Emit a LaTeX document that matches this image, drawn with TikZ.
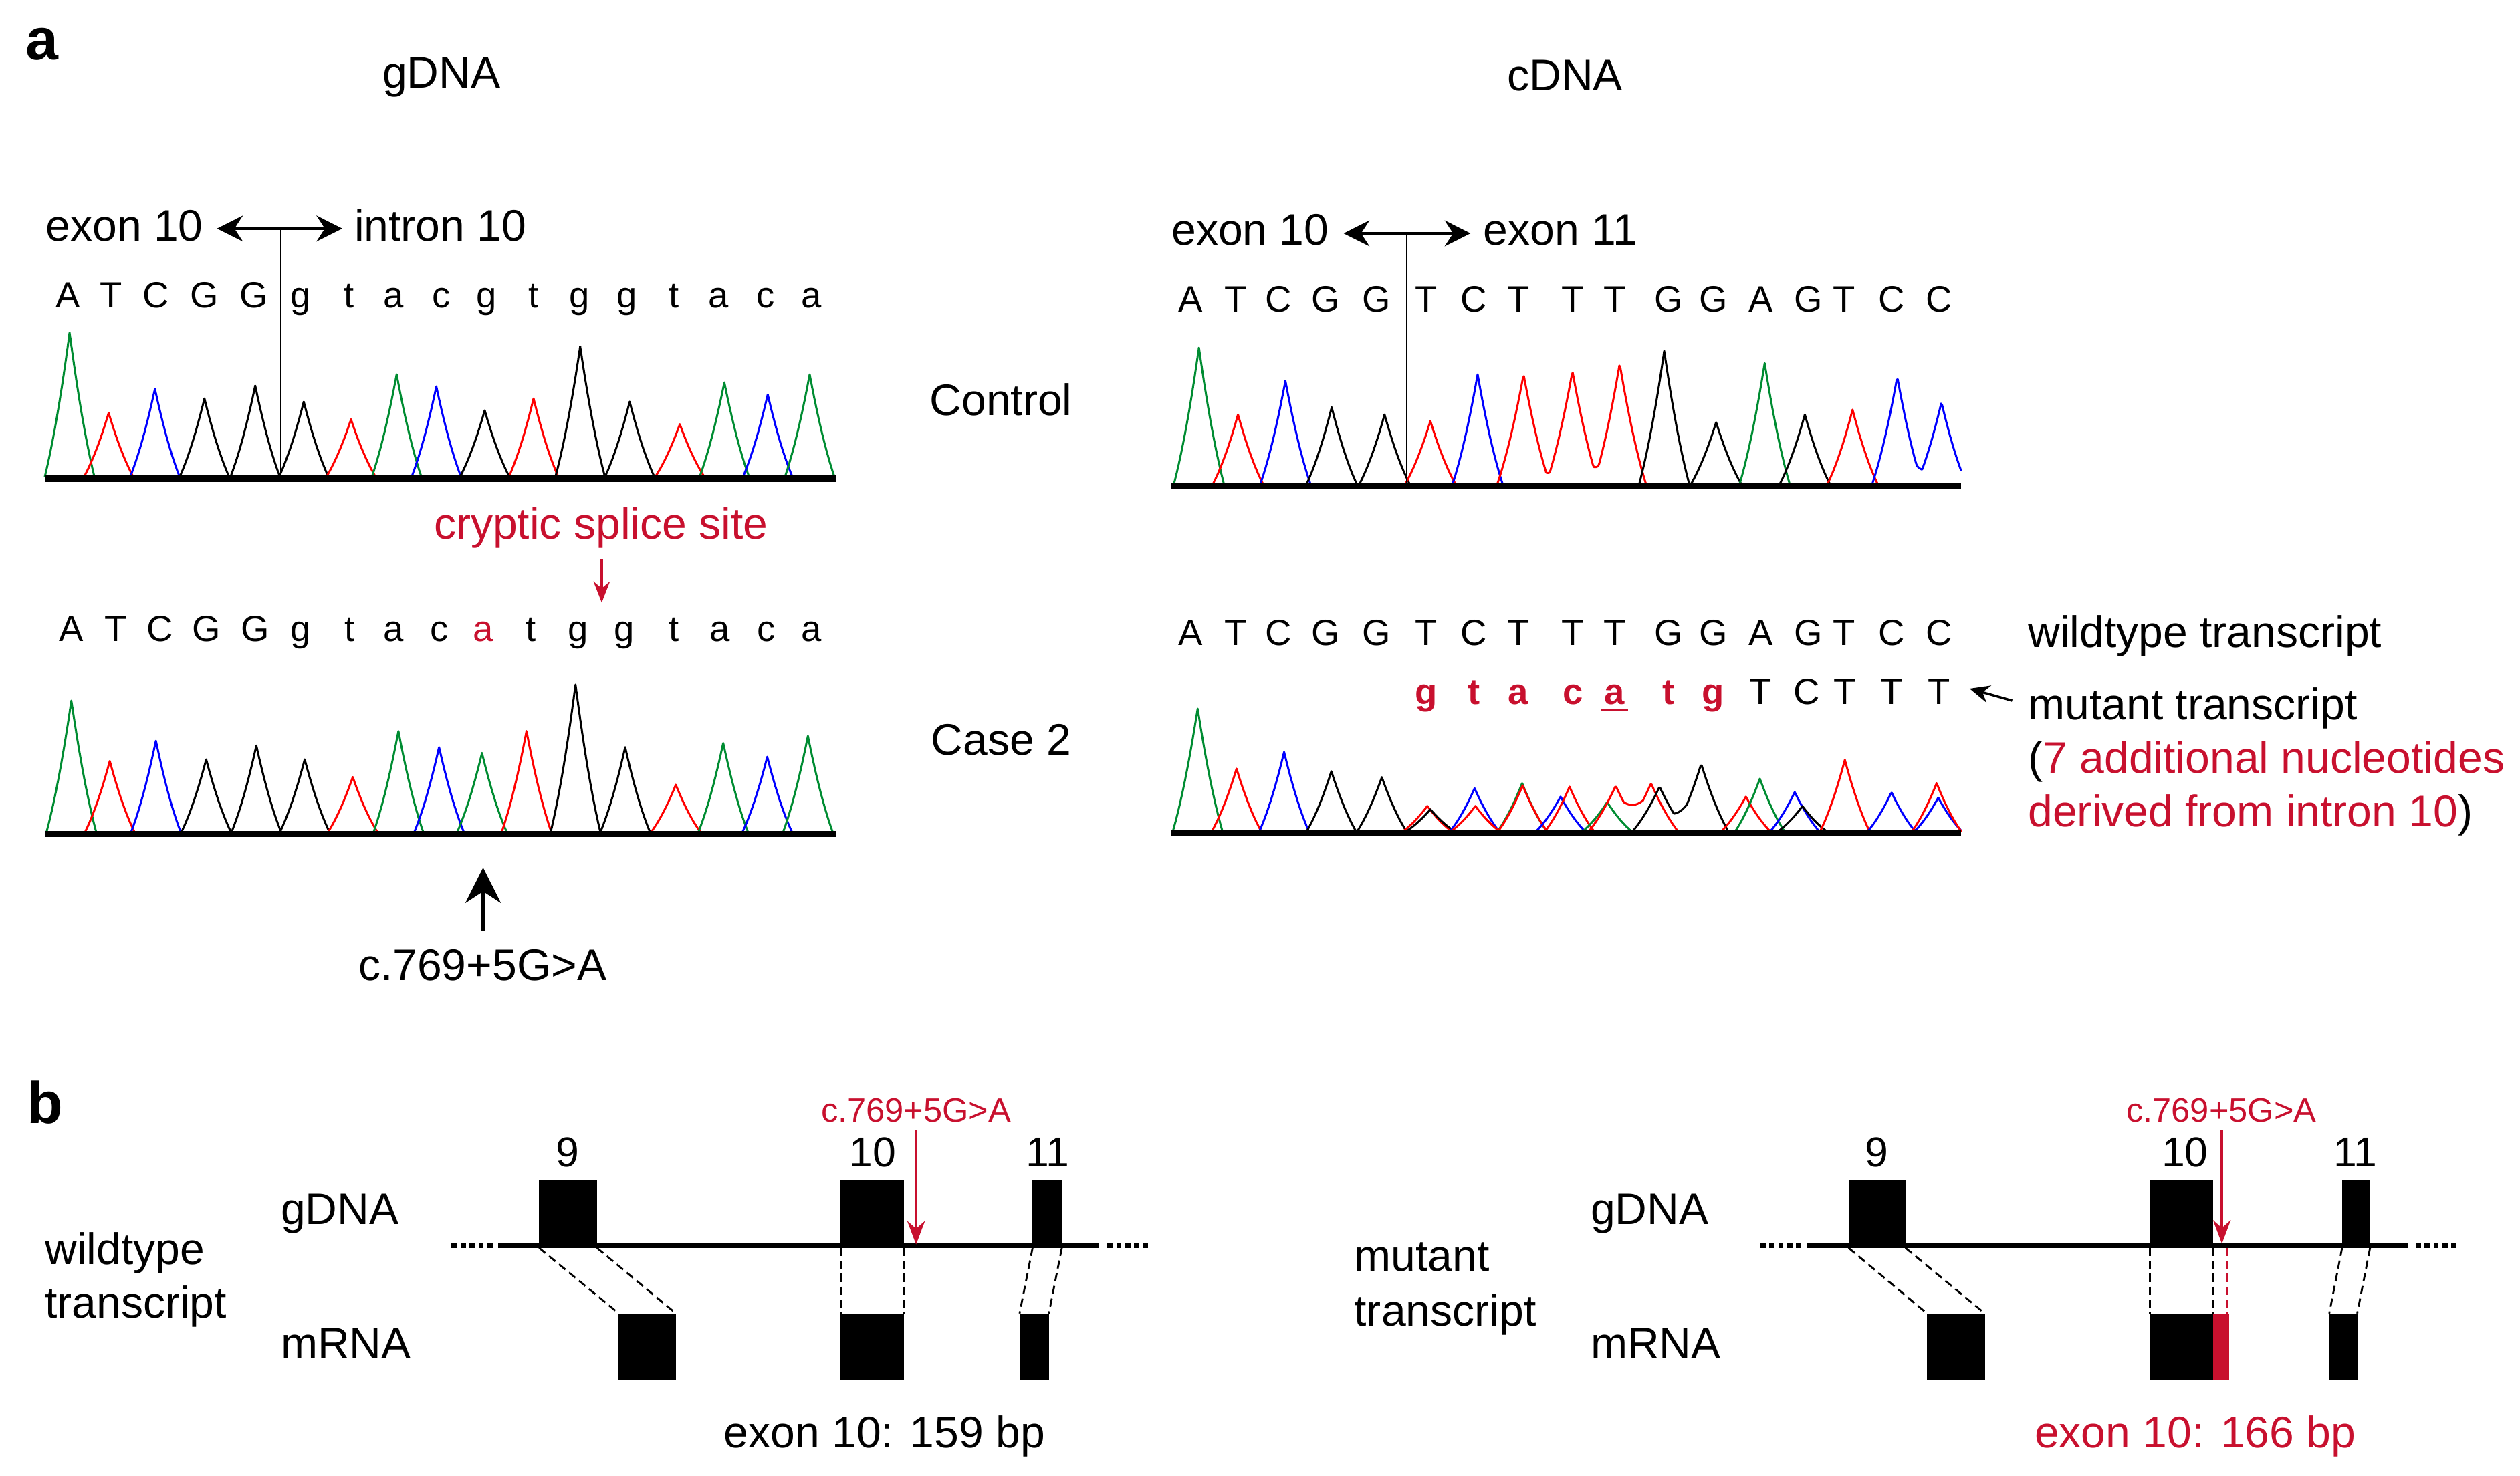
\documentclass[tikz,border=0pt]{standalone}
\usepackage{fontspec}
\setmainfont{Liberation Sans}
\usetikzlibrary{arrows.meta,fit}
\definecolor{tgreen}{RGB}{0,140,50}
\definecolor{tred}{RGB}{255,0,0}
\definecolor{tblue}{RGB}{0,0,255}
\definecolor{hred}{RGB}{200,16,46}
\newdimen\PX \PX=0.024037cm
% one chromatogram peak: colour, centre, height, base line
\newcommand\pkk[4]{\draw[tr,#1] plot[domain=-15.5:15.5,samples=21] ({#2+\x},{#4-#3*pf(\x,15.5)});}
\tikzset{
  every node/.style={inner sep=0pt, outer sep=0pt},
  txt/.style={font=\fontsize{18.8}{22}\selectfont, anchor=base west},
  txtc/.style={font=\fontsize{18.8}{22}\selectfont, anchor=base},
  num/.style={font=\fontsize{17.8}{20}\selectfont, anchor=base},
  smallred/.style={font=\fontsize{14.4}{17}\selectfont, anchor=base, text=hred},
  seq/.style={font=\fontsize{15.5}{18}\selectfont, anchor=base},
  seqb/.style={font=\fontsize{15.5}{18}\selectfont\bfseries, anchor=base, text=hred},
  panel/.style={font=\fontsize{25}{28}\selectfont\bfseries, anchor=base west},
  tr/.style={line width=0.85pt, line join=round},
  bline/.style={line width=4\PX},
  vmark/.style={line width=0.7pt},
  dblarrow/.style={line width=1pt, {Stealth[length=11pt,width=11pt]}-{Stealth[length=11pt,width=11pt]}},
  bigarrow/.style={line width=1.8pt, -{Stealth[length=15pt,width=15pt]}},
  redarrow/.style={draw=hred, line width=0.9pt, -{Stealth[length=9pt,width=7pt]}},
  redarrowb/.style={draw=hred, line width=1pt, -{Stealth[length=10pt,width=7.5pt]}},
  smallarrow/.style={line width=1pt, -{Stealth[length=8.5pt,width=7.5pt]}},
  exbox/.style={fill=black, draw=none},
  redbox/.style={fill=hred, draw=none},
  gline/.style={line width=3.3\PX},
  gdots/.style={line width=3.3\PX, dash pattern=on 2.2pt off 1.6pt},
  dsh/.style={line width=0.8pt, dash pattern=on 3.5pt off 2pt},
  rdsh/.style={line width=0.8pt, dash pattern=on 3.5pt off 2pt, draw=hred},
  uline/.style={draw=hred, line width=1pt}
}
\begin{document}
\begin{tikzpicture}[x=0.024037cm, y=-0.024037cm,
  declare function={pf(\qu,\qw)=(1-abs(\qu)/\qw)*(0.7+0.3*(1-abs(\qu)/\qw));
                    pg(\qa,\qb,\qh,\qw)=\qh*max(0,1-abs(\qa-\qb)/\qw)*(0.7+0.3*max(0,1-abs(\qa-\qb)/\qw));}]
\useasboundingbox (0,0) rectangle (1568,918.2);

% ---------------- panel a : titles
\node[panel] (pa) at (16,37.2) {a};
\node[txtc] (tg) at (274.7,54.8) {gDNA};
\node[txtc] (tc) at (973.8,56.2) {cDNA};

% ---------------- chart A (gDNA control)
\pkk{tgreen}{43.3}{90}{297}
\pkk{tred}{67.6}{40}{297}
\pkk{tblue}{96.4}{55}{297}
\pkk{black}{127.2}{49}{297}
\pkk{black}{158.8}{57}{297}
\pkk{black}{189}{47}{297}
\pkk{tred}{218.4}{36}{297}
\pkk{tgreen}{246.8}{64}{297}
\pkk{tblue}{271.5}{56.5}{297}
\pkk{black}{301.6}{41.6}{297}
\pkk{tred}{332}{49}{297}
\pkk{black}{361}{81.4}{297}
\pkk{black}{391.8}{47}{297}
\pkk{tred}{423}{33}{297}
\pkk{tgreen}{450.7}{59}{297}
\pkk{tblue}{477.7}{51.5}{297}
\pkk{tgreen}{503.8}{64}{297}
\coordinate (bA1) at (28.4,298); \coordinate (bA2) at (520,298);
\draw[bline] (bA1) -- (bA2);
\foreach[count=\i] \ch/\xx in {A/42.3,T/69.3,C/97,G/127,G/158,g/187,t/217,a/245,c/274.6,g/302.6,t/332,g/360.5,g/390,t/419.5,a/447,c/476.6,a/505}
  {\node[seq] (sa\i) at (\xx,191.4) {\ch};}
\node[txt] (exA) at (28.5,149.8) {exon 10};
\node[txt] (inA) at (220.5,149.8) {intron 10};
\coordinate (arA1) at (135,142.2); \coordinate (arA2) at (213,142.2);
\draw[dblarrow] (arA1) -- (arA2);
\coordinate (vA1) at (174.8,142.2); \coordinate (vA2) at (174.8,297);
\draw[vmark] (vA1) -- (vA2);

% ---------------- chart B (gDNA case 2)
\pkk{tgreen}{44.4}{82}{518}
\pkk{tred}{68.3}{44.4}{518}
\pkk{tblue}{97}{57}{518}
\pkk{black}{128.3}{45.4}{518}
\pkk{black}{159.5}{54}{518}
\pkk{black}{189.6}{45.4}{518}
\pkk{tred}{219.5}{34.4}{518}
\pkk{tgreen}{247.9}{63}{518}
\pkk{tblue}{273.2}{53}{518}
\pkk{tgreen}{299.9}{49.4}{518}
\pkk{tred}{327.6}{63}{518}
\pkk{black}{358.1}{92}{518}
\pkk{black}{389}{53}{518}
\pkk{tred}{420.5}{29.6}{518}
\pkk{tgreen}{450}{55.6}{518}
\pkk{tblue}{477.4}{47}{518}
\pkk{tgreen}{502.7}{60}{518}
\coordinate (bB1) at (28.4,519); \coordinate (bB2) at (520,519);
\draw[bline] (bB1) -- (bB2);
\foreach[count=\i] \ch/\xx/\cl in {A/44.4/black,T/72/black,C/99.5/black,G/128.3/black,G/158.8/black,g/187.2/black,t/217.7/black,a/245/black,c/273.2/black,a/300.6/hred,t/330.4/black,g/359.9/black,g/388.3/black,t/419.5/black,a/448/black,c/476.7/black,a/505/black}
  {\node[seq,text=\cl] (sb\i) at (\xx,399) {\ch};}
\node[txt,text=hred] (cry) at (270,335.5) {cryptic splice site};
\coordinate (crA) at (374.4,348); \coordinate (crB) at (374.4,375);
\draw[redarrow] (crA) -- (crB);
\node[txt] (mutA) at (223,610) {c.769+5G>A};
\coordinate (maA) at (300.6,579); \coordinate (maB) at (300.6,540);
\draw[bigarrow] (maA) -- (maB);

\node[txt] (ctl) at (578.5,258.5) {Control};
\node[txt] (cs2) at (579.5,470) {Case 2};

% ---------------- chart C (cDNA control)
\pkk{tgreen}{746}{84.7}{301}
\pkk{tred}{770.3}{43}{301}
\pkk{tblue}{799.8}{64}{301}
\pkk{black}{828.6}{47.5}{301}
\pkk{black}{861.5}{43}{301}
\pkk{tred}{890}{39}{301}
\pkk{tblue}{919.4}{68}{301}
\draw[tr,tred] plot[domain=931.7:1024.1,samples=141] (\x,{301-pg(\x,948,68,16.3)-pg(\x,978.4,70,16.3)-pg(\x,1007.8,74.7,16.3)});
\pkk{black}{1035.5}{82.6}{301}
\pkk{black}{1067.8}{38.2}{301}
\pkk{tgreen}{1098}{75}{301}
\pkk{black}{1123}{43}{301}
\pkk{tred}{1152.7}{46}{301}
\draw[tr,tblue] plot[domain=1165:1220.3,samples=85] (\x,{301-pg(\x,1180.5,66.6,15.5)-pg(\x,1208,50.7,15.5)});
\coordinate (bC1) at (728.7,302.3); \coordinate (bC2) at (1220.3,302.3);
\draw[bline] (bC1) -- (bC2);
\foreach[count=\i] \ch/\xx in {A/740.9,T/769,C/795.6,G/825,G/856.3,T/887.5,C/917,T/944.7,T/978.7,T/1004.7,G/1038.3,G/1066,A/1095.5,G/1125,T/1147.5,C/1177,C/1206.5}
  {\node[seq] (sc\i) at (\xx,194) {\ch};}
\node[txt] (exC) at (729,152.5) {exon 10};
\node[txt] (exD) at (923,152.5) {exon 11};
\coordinate (arC1) at (836,145.2); \coordinate (arC2) at (915,145.2);
\draw[dblarrow] (arC1) -- (arC2);
\coordinate (vC1) at (875.4,145.2); \coordinate (vC2) at (875.4,301);
\draw[vmark] (vC1) -- (vC2);

% ---------------- chart D (cDNA case 2)
\pkk{tgreen}{745.2}{76.6}{517.6}
\pkk{tred}{769.4}{39.2}{517.6}
\pkk{tblue}{799}{49.6}{517.6}
\pkk{black}{828.4}{37.6}{517.6}
\pkk{black}{859.8}{33.9}{517.6}
\pkk{tred}{888.1}{16}{517.6}
\pkk{black}{890}{13.9}{517.6}
\pkk{tblue}{917.5}{27}{517.6}
\pkk{tred}{918}{16}{517.6}
\pkk{tgreen}{947.1}{30.2}{517.6}
\pkk{tred}{947.4}{28.8}{517.6}
\pkk{tblue}{971}{21.8}{517.6}
\pkk{tred}{976.6}{28}{517.6}
\pkk{tgreen}{1000}{18.4}{517.6}
\draw[tr,tred] plot[domain=988.3:1044.3,samples=85] (\x,{517.6-pg(\x,1005.3,28.6,17)-pg(\x,1027.3,30.2,17)});
\draw[tr,black] plot[domain=1015.6:1075.5,samples=91] (\x,{517.6-pg(\x,1032.6,28,17)-pg(\x,1058.5,42.2,17)});
\pkk{tred}{1086.3}{21.8}{517.6}
\pkk{tgreen}{1095}{33}{517.6}
\pkk{tblue}{1116.7}{24.6}{517.6}
\pkk{black}{1121.5}{15.9}{517.6}
\pkk{tred}{1147.9}{44.7}{517.6}
\draw[tr,tblue] plot[domain=1161.9:1220.5,samples=90] (\x,{517.6-pg(\x,1176.9,24.6,15)-pg(\x,1206,21.2,15)});
\pkk{tred}{1205}{30.2}{517.6}
\coordinate (bD1) at (729,518.6); \coordinate (bD2) at (1220,518.6);
\draw[bline] (bD1) -- (bD2);
\foreach[count=\i] \ch/\xx in {A/740.9,T/769,C/795.6,G/825,G/856.3,T/887.5,C/917,T/944.7,T/978.7,T/1004.7,G/1038.3,G/1066,A/1095.5,G/1125,T/1147.5,C/1177,C/1206.5}
  {\node[seq] (sd\i) at (\xx,401.5) {\ch};}
\foreach[count=\i] \ch/\xx in {g/887.5,t/917,a/944.7,c/978.7,a/1004.7,t/1038.3,g/1066}
  {\node[seqb] (sm\i) at (\xx,438.2) {\ch};}
\foreach[count=\i] \ch/\xx in {T/1095.5,C/1124,T/1147.7,T/1177,T/1206.7}
  {\node[seq] (sn\i) at (\xx,438.2) {\ch};}
\draw[uline] ([yshift=-2.4pt,xshift=-1.5pt]sm5.base west) -- ([yshift=-2.4pt,xshift=1.5pt]sm5.base east);

\node[txt] (wt) at (1262,402.9) {wildtype transcript};
\node[txt] (mt) at (1262,447.9) {mutant transcript};
\node[txt,text=hred] (add1) at (1262,481.2) {\textcolor{black}{(}7 additional nucleotides};
\node[txt,text=hred] (add2) at (1262,514.5) {derived from intron 10\textcolor{black}{)}};
\coordinate (mtA) at (1252,436); \coordinate (mtB) at (1225.5,428.5);
\draw[smallarrow] (mtA) -- (mtB);

% ---------------- panel b
\node[panel] (pb) at (17,699) {b};

% left: wildtype
\node[txt] (wl1) at (28,786.7) {wildtype};
\node[txt] (wl2) at (28,820) {transcript};
\node[txt] (gl) at (174.8,762) {gDNA};
\node[txt] (ml) at (174.8,845.4) {mRNA};
\coordinate (gLa) at (310,775); \coordinate (gLb) at (684,775);
\draw[gline] (gLa) -- (gLb);
\coordinate (dLa1) at (281,775); \coordinate (dLa2) at (307,775);
\coordinate (dLb1) at (689,775); \coordinate (dLb2) at (715,775);
\draw[gdots] (dLa1) -- (dLa2);
\draw[gdots] (dLb1) -- (dLb2);
\node[exbox, fit={(335.4,734.2) (371.4,776.6)}] (wg9) {};
\node[exbox, fit={(523,734.2) (562.4,776.6)}] (wg10) {};
\node[exbox, fit={(642.5,734.2) (660.7,776.6)}] (wg11) {};
\node[exbox, fit={(385,817.4) (420.6,859)}] (wm9) {};
\node[exbox, fit={(523,817.4) (562.4,859)}] (wm10) {};
\node[exbox, fit={(634.4,817.4) (652.6,859)}] (wm11) {};
\draw[dsh] (wg9.south west) -- (wm9.north west);
\draw[dsh] (wg9.south east) -- (wm9.north east);
\draw[dsh] (wg10.south west) -- (wm10.north west);
\draw[dsh] (wg10.south east) -- (wm10.north east);
\draw[dsh] (wg11.south west) -- (wm11.north west);
\draw[dsh] (wg11.south east) -- (wm11.north east);
\node[num] (wn9) at (353,726.3) {9};
\node[num] (wn10) at (543,726.3) {10};
\node[num] (wn11) at (652,726.3) {11};
\node[smallred] (wmut) at (570,698.3) {c.769+5G>A};
\coordinate (wra) at (570,703.5); \coordinate (wrb) at (570,774.5);
\draw[redarrowb] (wra) -- (wrb);
\node[txt] (wlen) at (450.5,900.7) {exon 10: 159 bp};

% right: mutant
\node[txt] (ml1) at (842.7,791) {mutant};
\node[txt] (ml2) at (842.7,825.3) {transcript};
\node[txt] (gr) at (989.8,762) {gDNA};
\node[txt] (mr) at (989.8,845.4) {mRNA};
\coordinate (gRa) at (1124.3,775); \coordinate (gRb) at (1498,775);
\draw[gline] (gRa) -- (gRb);
\coordinate (dRa1) at (1095.4,775); \coordinate (dRa2) at (1121,775);
\coordinate (dRb1) at (1503,775); \coordinate (dRb2) at (1529,775);
\draw[gdots] (dRa1) -- (dRa2);
\draw[gdots] (dRb1) -- (dRb2);
\node[exbox, fit={(1150.2,734.2) (1185.6,776.6)}] (mg9) {};
\node[exbox, fit={(1337.6,734.2) (1377,776.6)}] (mg10) {};
\node[exbox, fit={(1457.3,734.2) (1474.7,776.6)}] (mg11) {};
\node[exbox, fit={(1199,817.4) (1235,859)}] (mm9) {};
\node[exbox, fit={(1337.6,817.4) (1377,859)}] (mm10) {};
\node[redbox, fit={(1377,817.4) (1387,859)}] (mm10r) {};
\node[exbox, fit={(1449.3,817.4) (1466.7,859)}] (mm11) {};
\draw[dsh] (mg9.south west) -- (mm9.north west);
\draw[dsh] (mg9.south east) -- (mm9.north east);
\draw[dsh] (mg10.south west) -- (mm10.north west);
\draw[dsh] (mg10.south east) -- (mm10.north east);
\coordinate (rdA) at (1386,776.6);
\draw[rdsh] (rdA) -- (rdA |- mm10r.north);
\draw[dsh] (mg11.south west) -- (mm11.north west);
\draw[dsh] (mg11.south east) -- (mm11.north east);
\node[num] (mn9) at (1167.7,726.3) {9};
\node[num] (mn10) at (1359.5,726.3) {10};
\node[num] (mn11) at (1465.7,726.3) {11};
\node[smallred] (mmut) at (1382.2,698.3) {c.769+5G>A};
\coordinate (mra) at (1382.5,703.5); \coordinate (mrb) at (1382.5,774);
\draw[redarrowb] (mra) -- (mrb);
\node[txt,text=hred] (mlen) at (1266,900.7) {exon 10: 166 bp};
\end{tikzpicture}
\end{document}
